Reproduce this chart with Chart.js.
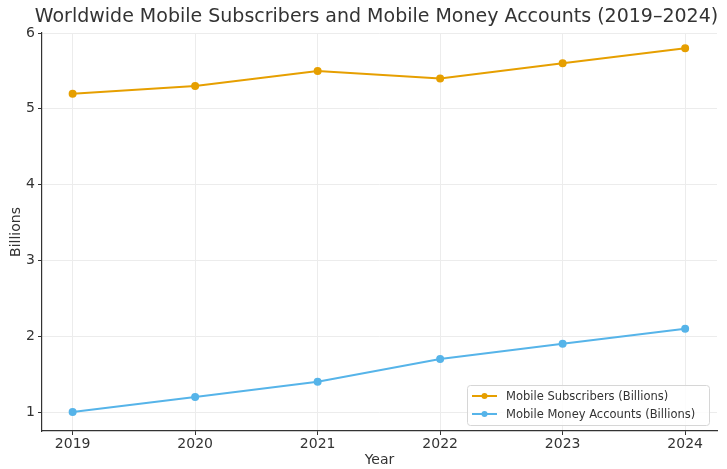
<!DOCTYPE html>
<html>
<head>
<meta charset="utf-8">
<script src="https://cdn.jsdelivr.net/npm/chart.js@4.4.1/dist/chart.umd.min.js"></script>
<style>
  html, body { margin: 0; padding: 0; background: #fff; }
  #wrap { width: 727px; height: 469px; }
</style>
</head>
<body>
<div id="wrap"><canvas id="myChart" width="727" height="469"></canvas></div>
<script>
const years = [2019, 2020, 2021, 2022, 2023, 2024];
const subscribers = [5.2, 5.3, 5.5, 5.4, 5.6, 5.8];
const moneyAccounts = [1.0, 1.2, 1.4, 1.7, 1.9, 2.1];
const yTicks = [1, 2, 3, 4, 5, 6];
const titleText = 'Worldwide Mobile Subscribers and Mobile Money Accounts (2019\u20132024)';

const FONT = 'DejaVu Sans';

// title centred over the plot area rather than the whole canvas,
// plus a framed legend inside the plot at the bottom right
const decorations = {
  id: 'decorations',
  afterDraw(chart) {
    const ctx = chart.ctx;
    const area = chart.chartArea;
    ctx.save();
    ctx.fillStyle = '#333';
    ctx.font = '19px ' + FONT;
    ctx.textAlign = 'center';
    ctx.textBaseline = 'middle';
    ctx.fillText(titleText, (area.left + area.right) / 2 - 3, 17);

    const w = 242, h = 40;
    const x = area.right - w - 8, y = area.bottom - h - 6;
    ctx.textAlign = 'left';
    ctx.fillStyle = 'rgba(255,255,255,0.85)';
    ctx.strokeStyle = '#d6d6d6';
    ctx.lineWidth = 1;
    ctx.beginPath();
    ctx.roundRect(x + 0.5, y + 0.5, w, h, 3);
    ctx.fill();
    ctx.stroke();
    ctx.font = '11.5px ' + FONT;
    chart.data.datasets.forEach((ds, i) => {
      const ly = y + 11 + i * 18;
      ctx.strokeStyle = ds.borderColor;
      ctx.lineWidth = 2;
      ctx.beginPath();
      ctx.moveTo(x + 5, ly);
      ctx.lineTo(x + 30, ly);
      ctx.stroke();
      ctx.fillStyle = ds.borderColor;
      ctx.beginPath();
      ctx.arc(x + 17.5, ly, 3, 0, Math.PI * 2);
      ctx.fill();
      ctx.fillStyle = '#333';
      ctx.fillText(ds.label, x + 39, ly + 1);
    });
    ctx.restore();
  }
};

const ctx = document.getElementById('myChart').getContext('2d');
new Chart(ctx, {
  type: 'line',
  data: {
    datasets: [{
      label: 'Mobile Subscribers (Billions)',
      data: years.map((y, i) => ({ x: y, y: subscribers[i] })),
      borderColor: '#E69F00',
      backgroundColor: '#E69F00',
      borderWidth: 2,
      pointRadius: 3,
      pointHoverRadius: 3
    }, {
      label: 'Mobile Money Accounts (Billions)',
      data: years.map((y, i) => ({ x: y, y: moneyAccounts[i] })),
      borderColor: '#56B4E9',
      backgroundColor: '#56B4E9',
      borderWidth: 2,
      pointRadius: 3,
      pointHoverRadius: 3
    }]
  },
  options: {
    responsive: false,
    animation: false,
    layout: { padding: { left: 0, right: 10, top: 33, bottom: 0 } },
    plugins: {
      legend: { display: false },
      tooltip: { enabled: false },
      title: { display: false }
    },
    scales: {
      x: {
        type: 'linear',
        min: 2018.75,
        max: 2024.26,
        afterBuildTicks: s => { s.ticks = years.map(v => ({ value: v })); },
        afterFit: s => { s.height = 38; },
        ticks: {
          color: '#333',
          font: { family: FONT, size: 14 },
          padding: 1,
          maxRotation: 0,
          callback: v => String(v)
        },
        grid: { color: '#ececec', tickColor: '#333', tickLength: 4 },
        border: { color: '#333', width: 1.2 },
        title: {
          display: true,
          text: 'Year',
          color: '#333',
          font: { family: FONT, size: 14 },
          padding: { top: 0, bottom: 0 }
        }
      },
      y: {
        min: 0.75,
        max: 6,
        afterBuildTicks: s => { s.ticks = yTicks.map(v => ({ value: v })); },
        afterFit: s => { s.width = 42; },
        ticks: {
          color: '#333',
          font: { family: FONT, size: 14 },
          padding: 3
        },
        grid: { color: '#ececec', tickColor: '#333', tickLength: 4 },
        border: { color: '#333', width: 1.2 },
        title: {
          display: true,
          text: 'Billions',
          color: '#333',
          font: { family: FONT, size: 14 },
          padding: { top: 8, bottom: 0 }
        }
      }
    }
  },
  plugins: [decorations]
});
</script>
</body>
</html>
